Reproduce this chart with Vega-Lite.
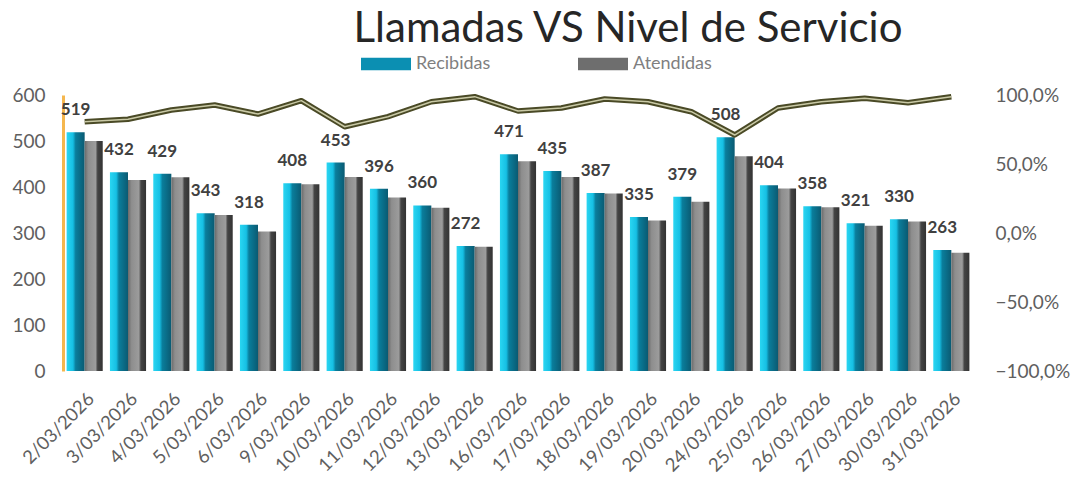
{
  "$schema": "https://vega.github.io/schema/vega-lite/v6.json",
  "width": 910,
  "height": 276,
  "autosize": {"type": "none"},
  "padding": {"left": 63, "top": 95, "right": 100, "bottom": 107},
  "background": "white",
  "config": {
    "font": "Lato",
    "view": {"stroke": null},
    "locale": {"number": {"decimal": ",", "thousands": ".", "grouping": [3], "currency": ["", " €"]}}
  },
  "title": {
    "text": "Llamadas VS Nivel de Servicio",
    "fontSize": 42,
    "fontWeight": "normal",
    "font": "Lato",
    "color": "#262626",
    "anchor": "middle",
    "dx": 110,
    "offset": -13
  },
  "datasets": {
    "barras": [
      {"fecha": "2/03/2026", "serie": "Recibidas", "valor": 519},
      {"fecha": "2/03/2026", "serie": "Atendidas", "valor": 500},
      {"fecha": "3/03/2026", "serie": "Recibidas", "valor": 432},
      {"fecha": "3/03/2026", "serie": "Atendidas", "valor": 415},
      {"fecha": "4/03/2026", "serie": "Recibidas", "valor": 429},
      {"fecha": "4/03/2026", "serie": "Atendidas", "valor": 421},
      {"fecha": "5/03/2026", "serie": "Recibidas", "valor": 343},
      {"fecha": "5/03/2026", "serie": "Atendidas", "valor": 339},
      {"fecha": "6/03/2026", "serie": "Recibidas", "valor": 318},
      {"fecha": "6/03/2026", "serie": "Atendidas", "valor": 303},
      {"fecha": "9/03/2026", "serie": "Recibidas", "valor": 408},
      {"fecha": "9/03/2026", "serie": "Atendidas", "valor": 406},
      {"fecha": "10/03/2026", "serie": "Recibidas", "valor": 453},
      {"fecha": "10/03/2026", "serie": "Atendidas", "valor": 422},
      {"fecha": "11/03/2026", "serie": "Recibidas", "valor": 396},
      {"fecha": "11/03/2026", "serie": "Atendidas", "valor": 377},
      {"fecha": "12/03/2026", "serie": "Recibidas", "valor": 360},
      {"fecha": "12/03/2026", "serie": "Atendidas", "valor": 355},
      {"fecha": "13/03/2026", "serie": "Recibidas", "valor": 272},
      {"fecha": "13/03/2026", "serie": "Atendidas", "valor": 270},
      {"fecha": "16/03/2026", "serie": "Recibidas", "valor": 471},
      {"fecha": "16/03/2026", "serie": "Atendidas", "valor": 456},
      {"fecha": "17/03/2026", "serie": "Recibidas", "valor": 435},
      {"fecha": "17/03/2026", "serie": "Atendidas", "valor": 422},
      {"fecha": "18/03/2026", "serie": "Recibidas", "valor": 387},
      {"fecha": "18/03/2026", "serie": "Atendidas", "valor": 386},
      {"fecha": "19/03/2026", "serie": "Recibidas", "valor": 335},
      {"fecha": "19/03/2026", "serie": "Atendidas", "valor": 327},
      {"fecha": "20/03/2026", "serie": "Recibidas", "valor": 379},
      {"fecha": "20/03/2026", "serie": "Atendidas", "valor": 368},
      {"fecha": "24/03/2026", "serie": "Recibidas", "valor": 508},
      {"fecha": "24/03/2026", "serie": "Atendidas", "valor": 467},
      {"fecha": "25/03/2026", "serie": "Recibidas", "valor": 404},
      {"fecha": "25/03/2026", "serie": "Atendidas", "valor": 397},
      {"fecha": "26/03/2026", "serie": "Recibidas", "valor": 358},
      {"fecha": "26/03/2026", "serie": "Atendidas", "valor": 356},
      {"fecha": "27/03/2026", "serie": "Recibidas", "valor": 321},
      {"fecha": "27/03/2026", "serie": "Atendidas", "valor": 316},
      {"fecha": "30/03/2026", "serie": "Recibidas", "valor": 330},
      {"fecha": "30/03/2026", "serie": "Atendidas", "valor": 325},
      {"fecha": "31/03/2026", "serie": "Recibidas", "valor": 263},
      {"fecha": "31/03/2026", "serie": "Atendidas", "valor": 257}
    ],
    "nivel": [
      {"fecha": "2/03/2026", "nivel": 0.807},
      {"fecha": "3/03/2026", "nivel": 0.824},
      {"fecha": "4/03/2026", "nivel": 0.891},
      {"fecha": "5/03/2026", "nivel": 0.928},
      {"fecha": "6/03/2026", "nivel": 0.862},
      {"fecha": "9/03/2026", "nivel": 0.959},
      {"fecha": "10/03/2026", "nivel": 0.770},
      {"fecha": "11/03/2026", "nivel": 0.843},
      {"fecha": "12/03/2026", "nivel": 0.951},
      {"fecha": "13/03/2026", "nivel": 0.988},
      {"fecha": "16/03/2026", "nivel": 0.884},
      {"fecha": "17/03/2026", "nivel": 0.906},
      {"fecha": "18/03/2026", "nivel": 0.971},
      {"fecha": "19/03/2026", "nivel": 0.951},
      {"fecha": "20/03/2026", "nivel": 0.879},
      {"fecha": "24/03/2026", "nivel": 0.710},
      {"fecha": "25/03/2026", "nivel": 0.906},
      {"fecha": "26/03/2026", "nivel": 0.951},
      {"fecha": "27/03/2026", "nivel": 0.976},
      {"fecha": "30/03/2026", "nivel": 0.944},
      {"fecha": "31/03/2026", "nivel": 0.988}
    ]
  },
  "layer": [
    {
      "data": {"name": "barras"},
      "encoding": {
        "x": {
          "field": "fecha", "type": "nominal", "sort": null, "title": null,
          "scale": {"paddingInner": 0, "paddingOuter": 0},
          "axis": {
            "labelAngle": -45, "labelAlign": "right", "labelBaseline": "top",
            "labelFontSize": 18.5, "labelColor": "#5f5f5f", "labelPadding": 18,
            "domain": false, "ticks": false, "labelFont": "Lato"
          }
        },
        "xOffset": {"field": "serie", "type": "nominal", "scale": {"domain": ["Recibidas", "Atendidas"], "paddingInner": 0, "paddingOuter": 0.2}},
        "y": {
          "field": "valor", "type": "quantitative", "title": null,
          "scale": {"domain": [0, 600], "nice": false},
          "axis": {
            "values": [0, 100, 200, 300, 400, 500, 600],
            "grid": false, "ticks": false,
            "domainColor": "#f5b74e", "domainWidth": 3,
            "labelFontSize": 19, "labelColor": "#5f5f5f", "labelPadding": 18, "labelFont": "Lato"
          }
        }
      },
      "layer": [
        {
          "transform": [{"filter": "datum.serie === 'Recibidas'"}],
          "mark": {
            "type": "bar",
            "fill": {"gradient": "linear", "x1": 0, "x2": 1, "y1": 0, "y2": 0,
              "stops": [
                {"offset": 0, "color": "#2ad6f2"},
                {"offset": 0.35, "color": "#16c0e4"},
                {"offset": 0.5, "color": "#0a7e9c"},
                {"offset": 1, "color": "#0a5a72"}
              ]}
          }
        },
        {
          "transform": [{"filter": "datum.serie === 'Atendidas'"}],
          "mark": {
            "type": "bar",
            "fill": {"gradient": "linear", "x1": 0, "x2": 1, "y1": 0, "y2": 0,
              "stops": [
                {"offset": 0, "color": "#6a6a6a"},
                {"offset": 0.2, "color": "#8e8e8e"},
                {"offset": 0.6, "color": "#9c9c9c"},
                {"offset": 0.72, "color": "#444444"},
                {"offset": 1, "color": "#333333"}
              ]}
          }
        },
        {
          "transform": [{"filter": "datum.serie === 'Recibidas'"}],
          "mark": {"type": "text", "fontWeight": "bold", "fontSize": 17, "color": "#404040", "baseline": "middle", "dy": -22, "font": "Lato"},
          "encoding": {"text": {"field": "valor", "type": "quantitative"}}
        },
        {
          "mark": {"type": "point", "filled": true, "opacity": 0},
          "encoding": {
            "color": {
              "field": "serie", "type": "nominal", "title": null,
              "scale": {"domain": ["Recibidas", "Atendidas"], "range": ["#0b8fb2", "#6e6e6e"]},
              "legend": {
                "orient": "none", "direction": "horizontal",
                "legendX": 297, "legendY": -57,
                "symbolType": "M-1,-0.25L1,-0.25L1,0.25L-1,0.25Z",
                "symbolSize": 2500, "symbolOpacity": 1,
                "labelFontSize": 18, "labelColor": "#7f7f7f", "labelFont": "Lato",
                "columnPadding": 86, "labelOffset": 4
              }
            }
          }
        }
      ]
    },
    {
      "data": {"name": "nivel"},
      "encoding": {
        "x": {"field": "fecha", "type": "nominal", "sort": null},
        "y": {
          "field": "nivel", "type": "quantitative", "title": null,
          "scale": {"domain": [-1, 1], "nice": false},
          "axis": {
            "orient": "right", "format": ".1%",
            "values": [-1, -0.5, 0, 0.5, 1],
            "grid": false, "ticks": false, "domain": false,
            "labelFontSize": 19, "labelColor": "#5f5f5f", "labelPadding": 22, "labelFont": "Lato"
          }
        }
      },
      "layer": [
        {"mark": {"type": "line", "stroke": "#4a4a26", "strokeWidth": 5.5, "strokeJoin": "round"}},
        {"mark": {"type": "line", "stroke": "#c9c9a6", "strokeWidth": 1.5, "strokeJoin": "round"}}
      ]
    }
  ],
  "resolve": {"scale": {"y": "independent"}}
}
